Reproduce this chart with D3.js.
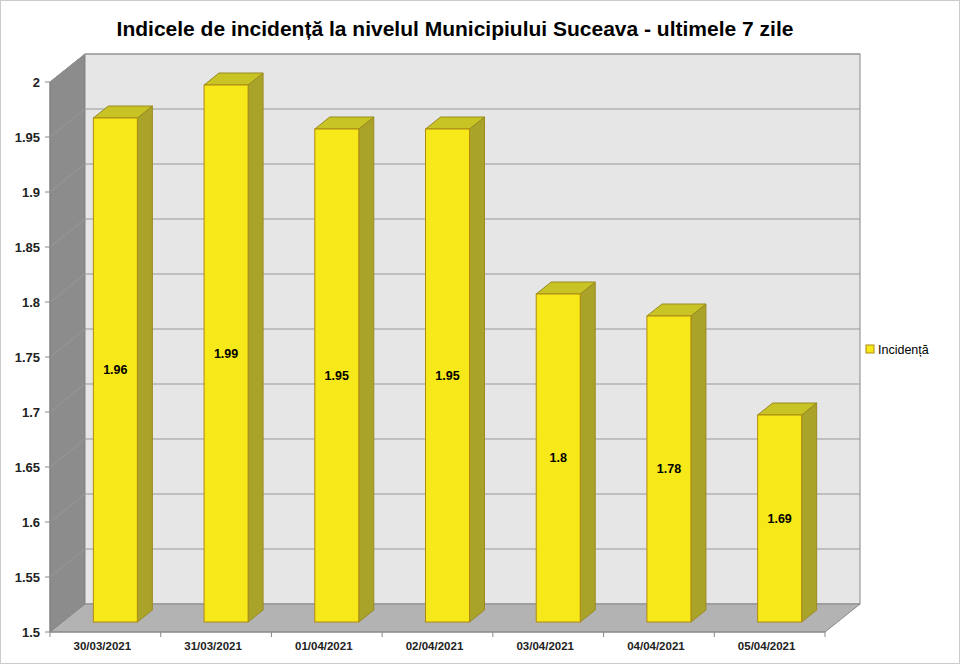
<!DOCTYPE html>
<html><head><meta charset="utf-8">
<script src="https://cdn.jsdelivr.net/npm/d3@7"></script>
<style>body{margin:0;background:#fff;font-family:"Liberation Sans",Arial,sans-serif}</style>
</head><body>
<script>
var dates = ["30/03/2021","31/03/2021","01/04/2021","02/04/2021","03/04/2021","04/04/2021","05/04/2021"];
var values = [1.96, 1.99, 1.95, 1.95, 1.8, 1.78, 1.69];
var ticks = [1.5,1.55,1.6,1.65,1.7,1.75,1.8,1.85,1.9,1.95,2];

var W = 960, H = 664;
var x0 = 50, x1 = 825, yB = 632, yT = 82;
var dx = 35, dy = -28;     // wall depth
var bdx = 10, bdy = -8;    // bar placement depth
var bd = 15, bdh = 12;     // bar own depth

var svg = d3.select("body").append("svg").attr("width", W).attr("height", H);
var y = d3.scaleLinear().domain([1.5, 2]).range([yB, yT]);
var x = d3.scaleBand().domain(dates).range([x0, x1]);

svg.append("rect").attr("x",0.5).attr("y",0.5).attr("width",W-1).attr("height",H-1)
	.attr("fill","none").attr("stroke","#ccc");

svg.append("text").attr("x", 455).attr("y", 36).attr("text-anchor","middle")
	.attr("font-size", 21).attr("font-weight","bold")
	.text("Indicele de incidență la nivelul Municipiului Suceava - ultimele 7 zile");

// side wall
svg.append("polygon").attr("fill","#8c8c8c").attr("stroke","#777")
	.attr("points", [[x0,yB],[x0,yT],[x0+dx,yT+dy],[x0+dx,yB+dy]].join(" "));
// back wall
svg.append("rect").attr("x",x0+dx).attr("y",yT+dy).attr("width",x1-x0).attr("height",yB-yT)
	.attr("fill","#e6e6e6").attr("stroke","#888");
// floor
svg.append("polygon").attr("fill","#b3b3b3").attr("stroke","#888")
	.attr("points", [[x0,yB],[x1,yB],[x1+dx,yB+dy],[x0+dx,yB+dy]].join(" "));

// gridlines
ticks.slice(1).forEach(function(t) {
	svg.append("polyline").attr("fill","none").attr("stroke","#999")
		.attr("points", [[x0,y(t)],[x0+dx,y(t)+dy],[x1+dx,y(t)+dy]].join(" "));
});

// y axis
svg.append("line").attr("x1",x0).attr("x2",x0).attr("y1",yT).attr("y2",yB).attr("stroke","#888");
svg.selectAll(".yt").data(ticks).enter().append("text")
	.attr("x", 40).attr("y", function(d){ return y(d)+5; }).attr("text-anchor","end")
	.attr("font-size", 13).attr("font-weight","bold").attr("fill","#222")
	.text(function(d){ return d; });
svg.selectAll(".ytk").data(ticks).enter().append("line")
	.attr("x1",x0-5).attr("x2",x0).attr("y1",function(d){return y(d);}).attr("y2",function(d){return y(d);})
	.attr("stroke","#888");

// x axis
svg.append("line").attr("x1",x0).attr("x2",x1).attr("y1",yB).attr("y2",yB).attr("stroke","#888");
svg.selectAll(".xtk").data(d3.range(dates.length+1)).enter().append("line")
	.attr("x1",function(i){return x0+i*x.step();}).attr("x2",function(i){return x0+i*x.step();})
	.attr("y1",yB).attr("y2",yB+5).attr("stroke","#888");
svg.selectAll(".xl").data(dates).enter().append("text")
	.attr("x", function(d){ return x(d)+x.bandwidth()/2 - 3; }).attr("y", 650)
	.attr("text-anchor","middle").attr("font-size", 11.5).attr("font-weight","bold").attr("fill","#222")
	.text(function(d){ return d; });

// bars
var bw = 44;
var g = svg.selectAll(".bar").data(values).enter().append("g");
g.each(function(v, i) {
	var s = d3.select(this);
	var L = x(dates[i]) + x.bandwidth()/2 + bdx - bw/2, R = L + bw;
	var top = y(v) + bdy, bot = yB + bdy - 2;
	s.append("polygon").attr("fill","#a9a32a").attr("stroke","#9a8a20")
		.attr("points", [[R,bot],[R,top],[R+bd,top-bdh],[R+bd,bot-bdh]].join(" "));
	s.append("polygon").attr("fill","#c9c425").attr("stroke","#9a8a20")
		.attr("points", [[L,top],[R,top],[R+bd,top-bdh],[L+bd,top-bdh]].join(" "));
	s.append("rect").attr("x",L).attr("y",top).attr("width",bw).attr("height",bot-top)
		.attr("fill","#f7e819").attr("stroke","#b08a10");
	s.append("text").attr("x",L+bw/2).attr("y",(top+bot)/2+4).attr("text-anchor","middle")
		.attr("font-size",12.5).attr("font-weight","bold").text(v);
});

// legend
svg.append("rect").attr("x",866).attr("y",345).attr("width",8).attr("height",8)
	.attr("fill","#f7e819").attr("stroke","#b08a10");
svg.append("text").attr("x",878).attr("y",354).attr("font-size",12.5).text("Incidență");
</script>
</body></html>
